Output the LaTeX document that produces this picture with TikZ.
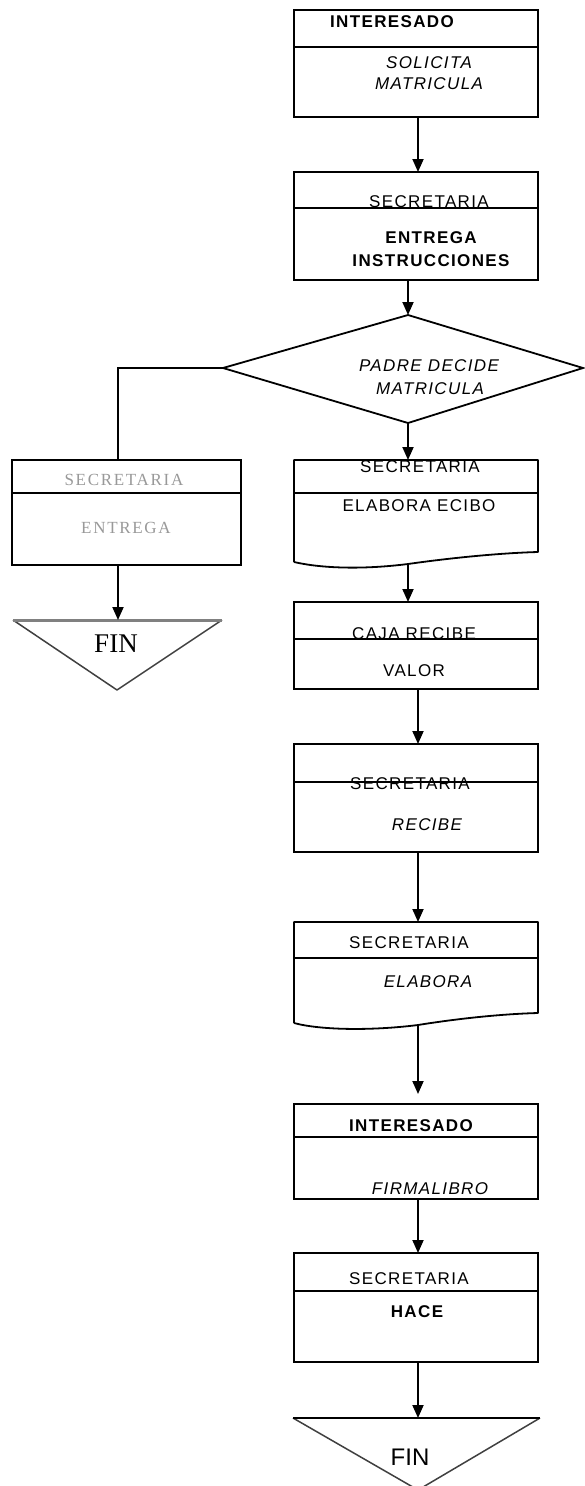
\documentclass[tikz,border=0pt]{standalone}
\usepackage{fontspec}
\setmainfont{Liberation Sans}
\newfontfamily\boxfont[LetterSpace=8]{Liberation Sans}
\newfontfamily\grayfont[LetterSpace=10]{Liberation Serif}
\newfontfamily\finserif{Liberation Serif}
\usetikzlibrary{arrows.meta}
\definecolor{lightgraytext}{gray}{0.6}
\definecolor{edgegray}{gray}{0.25}
\begin{document}
\begin{tikzpicture}[x=1pt,y=-1pt,
  proc/.style={draw, line width=1.8pt, anchor=north west, minimum width=244pt, inner sep=0pt, outer sep=0pt},
  docbox/.style={anchor=north west, minimum width=244pt, inner sep=0pt, outer sep=0pt},
  divline/.style={line width=1.8pt},
  lbl/.style={inner sep=0pt, font=\boxfont\fontsize{17}{19}\selectfont},
  lblb/.style={lbl, font=\boxfont\bfseries\fontsize{17}{19}\selectfont},
  lbli/.style={lbl, font=\boxfont\itshape\fontsize{17}{19}\selectfont},
  graylbl/.style={inner sep=0pt, text=lightgraytext, font=\grayfont\fontsize{17}{19}\selectfont},
  arr/.style={line width=1.8pt, -{Triangle[length=13pt,width=11pt]}},
  conn/.style={line width=1.8pt}
]
\useasboundingbox (0,0) rectangle (584,1486);
\fill[white] (0,0) rectangle (584,1486);

% helper coordinates for connector columns
\coordinate (cA) at (418,0);
\coordinate (cB) at (408,0);
\coordinate (cL) at (118,0);

% ---------- Box 1 ----------
\node[proc, minimum height=107pt] (b1) at (294,10) {};
\draw[divline] (294,47) -- (538,47);
\node[lblb] (t1a) at (392,22) {INTERESADO};
\node[lbli] (t1b) at (429,63) {SOLICITA};
\node[lbli] (t1c) at (429,84) {MATRICULA};

% ---------- Box 2 ----------
\node[proc, minimum height=108pt] (b2) at (294,172) {};
\draw[divline] (294,208) -- (538,208);
\node[lbl] (t2a) at (429,202) {SECRETARIA};
\node[lblb] (t2b) at (431,238) {ENTREGA};
\node[lblb] (t2c) at (431,261) {INSTRUCCIONES};

% ---------- Decision ----------
\coordinate (dt) at (408,315);
\coordinate (dr) at (583,368);
\coordinate (db) at (408,423);
\coordinate (dl) at (223,368);
\draw[line width=1.8pt, line join=miter] (dt) -- (dr) -- (db) -- (dl) -- cycle;
\node[lbli] (tda) at (429,366) {PADRE DECIDE};
\node[lbli] (tdb) at (430,389) {MATRICULA};

% ---------- Left box ----------
\node[proc, minimum width=229pt, minimum height=105pt] (lb) at (12,460) {};
\draw[divline] (12,493) -- (241,493);
\node[graylbl] (tla) at (124,480) {SECRETARIA};
\node[graylbl] (tlb) at (126,528) {ENTREGA};

% ---------- Left FIN ----------
\coordinate (lf1) at (13,620);
\coordinate (lf2) at (222,620);
\coordinate (lf3) at (117,690);
\draw[line width=1.5pt, edgegray, line join=round] (lf2) -- (lf3) -- (lf1);
\draw[line width=3pt, gray] (lf1) -- (lf2);
\node[inner sep=0pt, font=\finserif\fontsize{27}{30}\selectfont] (tlf) at (116,644) {FIN};

% ---------- Box 3 (document) ----------
\node[docbox, minimum height=105pt] (b3) at (294,460) {};
\draw[line width=1.8pt, line join=round]
  (294,562) -- (294,460) -- (538,460) -- (538,552)
  .. controls (500,553) and (450,558) .. (408,564)
  .. controls (360,570) and (320,568) .. (294,562);
\draw[divline] (294,493) -- (538,493);
\node[lbl] (t3a) at (420,467) {SECRETARIA};
\node[lbl] (t3b) at (419,506) {ELABORA ECIBO};

% ---------- Box 4 ----------
\node[proc, minimum height=87pt] (b4) at (294,602) {};
\draw[divline] (294,639) -- (538,639);
\node[lbl] (t4a) at (414,634) {CAJA RECIBE};
\node[lbl] (t4b) at (414,671) {VALOR};

% ---------- Box 5 ----------
\node[proc, minimum height=108pt] (b5) at (294,744) {};
\draw[divline] (294,782) -- (538,782);
\node[lbl] (t5a) at (410,784) {SECRETARIA};
\node[lbli] (t5b) at (427,825) {RECIBE};

% ---------- Box 6 (document) ----------
\node[docbox, minimum height=103pt] (b6) at (294,922) {};
\draw[line width=1.8pt, line join=round]
  (294,1023) -- (294,922) -- (538,922) -- (538,1013)
  .. controls (500,1014) and (455,1019) .. (418,1025)
  .. controls (370,1031) and (320,1030) .. (294,1023);
\draw[divline] (294,958) -- (538,958);
\node[lbl] (t6a) at (409,943) {SECRETARIA};
\node[lbli] (t6b) at (428,982) {ELABORA};

% ---------- Box 7 ----------
\node[proc, minimum height=95pt] (b7) at (294,1104) {};
\draw[divline] (294,1137) -- (538,1137);
\node[lblb] (t7a) at (411,1126) {INTERESADO};
\node[lbli] (t7b) at (430,1189) {FIRMALIBRO};

% ---------- Box 8 ----------
\node[proc, minimum height=109pt] (b8) at (294,1253) {};
\draw[divline] (294,1291) -- (538,1291);
\node[lbl] (t8a) at (409,1279) {SECRETARIA};
\node[lblb] (t8b) at (417,1312) {HACE};

% ---------- Right FIN ----------
\coordinate (rf1) at (293,1418);
\coordinate (rf2) at (540,1418);
\coordinate (rf3) at (418,1490);
\draw[line width=1.5pt, edgegray, line join=round] (rf2) -- (rf3) -- (rf1);
\draw[line width=2.6pt] (rf1) -- (rf2);
\node[inner sep=0pt, font=\fontsize{24}{28}\selectfont] (trf) at (410,1457) {FIN};

% ---------- Connectors ----------
\draw[arr] (b1.south -| cA) -- (b2.north -| cA);
\draw[arr] (b2.south -| cB) -- (dt);
\draw[arr] (db) -- (b3.north -| cB);
\draw[conn] (dl) -| (lb.north -| cL);
\draw[arr] (lb.south -| cL) -- (lf1 -| cL);
\draw[arr] (408,564) -- (b4.north -| cB);
\draw[arr] (b4.south -| cA) -- (b5.north -| cA);
\draw[arr] (b5.south -| cA) -- (b6.north -| cA);
\draw[arr] (418,1025) -- (418,1094);
\draw[arr] (b7.south -| cA) -- (b8.north -| cA);
\draw[arr] (b8.south -| cA) -- (rf1 -| cA);
\end{tikzpicture}
\end{document}
